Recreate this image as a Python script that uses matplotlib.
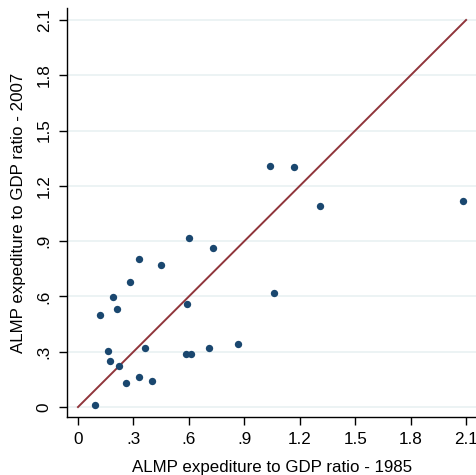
import matplotlib
matplotlib.use('Agg')
import matplotlib.pyplot as plt
import numpy as np

plt.rcParams['font.family'] = ['Liberation Sans', 'DejaVu Sans']

# ALMP expenditure to GDP ratio, 1985 vs 2007
almp_1985 = [1.037, 1.169, 1.308, 2.085, 0.599, 0.729, 0.332, 0.451, 0.281,
             0.191, 1.059, 0.209, 0.121, 0.590, 0.162, 0.361, 0.586, 0.611,
             0.709, 0.868, 0.171, 0.222, 0.332, 0.400, 0.260, 0.090]
almp_2007 = [1.309, 1.300, 1.089, 1.119, 0.919, 0.861, 0.801, 0.770, 0.678,
             0.599, 0.619, 0.530, 0.499, 0.561, 0.302, 0.318, 0.289, 0.289,
             0.318, 0.340, 0.251, 0.221, 0.163, 0.141, 0.128, 0.009]
ticks = [0, 0.3, 0.6, 0.9, 1.2, 1.5, 1.8, 2.1]
tick_labels = ['0', '.3', '.6', '.9', '1.2', '1.5', '1.8', '2.1']

navy = '#1a476f'
maroon = '#90353b'
grid = '#eaf2f3'

fig = plt.figure(figsize=(4.77, 4.75), dpi=100)
ax = fig.add_axes([67 / 477, 1 - 417 / 475, 1 - 67 / 477, (417 - 8) / 475])

for t in ticks:
    ax.axhline(t, color=grid, lw=1.3, zorder=0)

ax.plot([0, 2.1], [0, 2.1], color=maroon, lw=1.4, zorder=2)
ax.scatter(almp_1985, almp_2007, s=28, color=navy, zorder=3, linewidths=0)

ax.set_xlim(-0.0595, 2.159)
ax.set_ylim(-0.054, 2.165)
ax.set_xticks(ticks)
ax.set_xticklabels(tick_labels)
ax.set_yticks(ticks)
ax.set_yticklabels(tick_labels, rotation=90, va='center')
ax.tick_params(axis='both', length=6, width=1, labelsize=12.3, pad=5, color='black')

for side in ['top', 'right']:
    ax.spines[side].set_visible(False)
for side in ['left', 'bottom']:
    ax.spines[side].set_linewidth(1)

ax.set_xlabel('ALMP expediture to GDP ratio - 1985', fontsize=12.2, labelpad=9)
ax.set_ylabel('ALMP expediture to GDP ratio - 2007', fontsize=12.2, labelpad=8)

fig.savefig('out.png', dpi=100)
